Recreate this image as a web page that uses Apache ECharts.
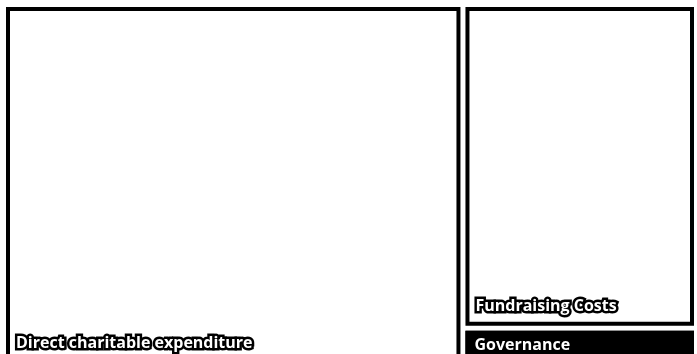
<!DOCTYPE html>
<html lang="en">
<head>
    <meta charset="UTF-8">
    <title>Expenditure</title>
    <script src="https://cdn.jsdelivr.net/npm/echarts@6/dist/echarts.min.js"></script>
    <style>
        html, body { margin: 0; padding: 0; background: #fff; }
        #main { width: 697px; height: 354px; }
    </style>
</head>
<body>
<div id="main"></div>
<script>
    // share of spending
    var names = ['Direct charitable expenditure', 'Fundraising Costs', 'Governance'];
    var values = [66.3, 30.3, 3.4];
    var fills = ['#ffffff', '#ffffff', '#000000'];

    var nodes = names.map(function (n, i) {
        var dark = fills[i] === '#000000';
        return {
            name: n,
            value: values[i],
            itemStyle: dark ? { color: fills[i], borderWidth: 0 } : { color: fills[i] },
            label: dark
                ? { color: '#fff', textBorderWidth: 0, distance: 8, padding: [0, 0, 0, 1] }
                : { color: '#fff', textBorderColor: '#000', textBorderWidth: 5 }
        };
    });

    var myChart = echarts.init(document.getElementById('main'));
    var option = {
        animation: false,
        series: [{
            type: 'treemap',
            left: 6,
            top: 7,
            right: 3,
            bottom: -8,
            roam: false,
            nodeClick: false,
            breadcrumb: { show: false },
            data: nodes,
            levels: [
                { itemStyle: { borderColor: '#fff', borderWidth: 0, gapWidth: 5 } },
                { itemStyle: { borderColor: '#000', borderWidth: 4 } }
            ],
            label: {
                show: true,
                position: 'insideBottomLeft',
                distance: 1,
                lineHeight: 18,
                fontFamily: 'Open Sans',
                fontWeight: 'bold',
                fontSize: 16
            }
        }]
    };
    myChart.setOption(option);
</script>
</body>
</html>
